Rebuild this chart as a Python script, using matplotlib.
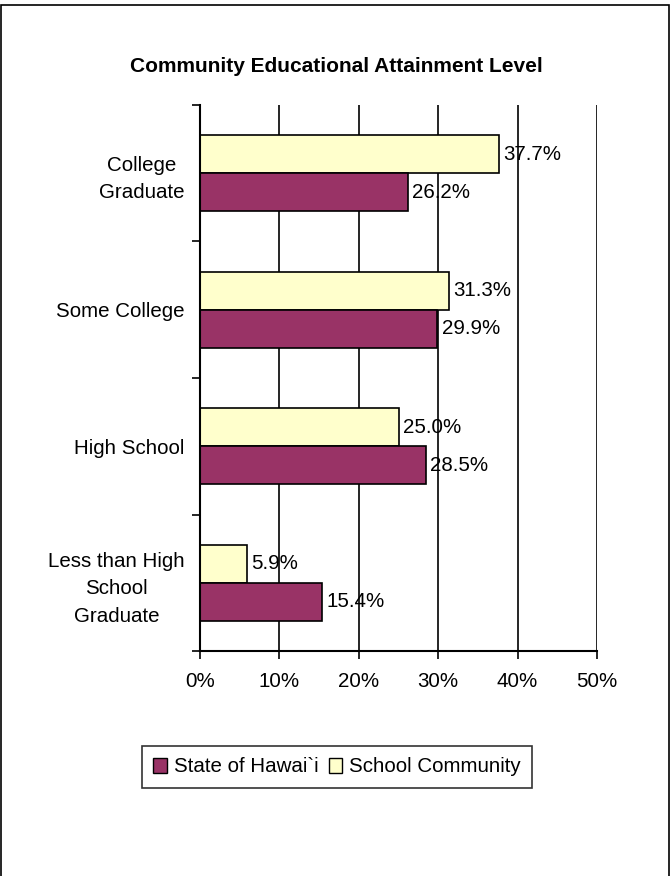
import matplotlib
matplotlib.use("Agg")
import matplotlib.pyplot as plt
from matplotlib.patches import Patch, Rectangle

# survey categories, bottom to top
categories = ["Less than High\nSchool\nGraduate", "High School", "Some College", "College\nGraduate"]
state_pct = [15.4, 28.5, 29.9, 26.2]
school_pct = [5.9, 25.0, 31.3, 37.7]
x_ticks = [0, 10, 20, 30, 40, 50]

PURPLE = "#993366"
YELLOW = "#FFFFCC"
FS = 14.8

plt.rcParams["font.family"] = ["Liberation Sans", "DejaVu Sans"]

fig = plt.figure(figsize=(6.70, 8.76), dpi=100)
ax = fig.add_axes([200 / 670, 1 - 651 / 876, 397 / 670, 546 / 876])

bh = 0.28
ys = list(range(len(categories)))
ax.barh([y + bh / 2 for y in ys], school_pct, height=bh, color=YELLOW,
        edgecolor="black", linewidth=1.2, zorder=3)
ax.barh([y - bh / 2 for y in ys], state_pct, height=bh, color=PURPLE,
        edgecolor="black", linewidth=1.2, zorder=3)

for y, v in zip(ys, school_pct):
    ax.annotate("%.1f%%" % v, xy=(v, y + bh / 2), xytext=(3, 0), textcoords="offset points",
                ha="left", va="center", fontsize=FS, zorder=5)
for y, v in zip(ys, state_pct):
    ax.annotate("%.1f%%" % v, xy=(v, y - bh / 2), xytext=(3, 0), textcoords="offset points",
                ha="left", va="center", fontsize=FS, zorder=5)

ax.set_xlim(0, 50)
ax.set_ylim(-0.5, len(categories) - 0.5)
ax.set_xticks(x_ticks)
ax.set_xticklabels(["%d%%" % t for t in x_ticks], fontsize=FS)
for t in x_ticks[1:]:
    ax.axvline(t, color="black", linewidth=1.2, zorder=1)

# category labels centred, boundary ticks between groups
ax.set_yticks(ys)
ax.set_yticklabels(categories, fontsize=FS, multialignment="center", linespacing=1.55)
ax.tick_params(axis="y", length=0, pad=11)
ax.set_yticks([y - 0.5 for y in ys] + [len(categories) - 0.5], minor=True)
ax.tick_params(axis="y", which="minor", length=6, width=1.2, direction="out")
ax.tick_params(axis="x", length=6, width=1.2, direction="out", pad=9)

for s in ["top", "right"]:
    ax.spines[s].set_visible(False)
ax.spines["left"].set_linewidth(1.5)
ax.spines["bottom"].set_linewidth(1.5)
ax.spines["left"].set_zorder(4)

fig.text(336 / 670, 1 - 67 / 876, "Community Educational Attainment Level",
         ha="center", va="center", fontsize=15, fontweight="bold")

handles = [Patch(facecolor=PURPLE, edgecolor="black", label="State of Hawai`i"),
           Patch(facecolor=YELLOW, edgecolor="black", label="School Community")]
leg = fig.legend(handles=handles, loc="center", bbox_to_anchor=(337 / 670, 1 - 767 / 876),
                 ncol=2, fontsize=FS, frameon=True, fancybox=False, shadow=False,
                 handlelength=0.65, handleheight=0.75, handletextpad=0.35, columnspacing=0.5,
                 borderpad=0.55, borderaxespad=0)
leg.get_frame().set_edgecolor("black")
leg.get_frame().set_linewidth(1.2)

# outer chart border
fig.patches.append(Rectangle((1 / 670, -0.05), 668 / 670, 1.05 - 5 / 876,
                             transform=fig.transFigure, fill=False,
                             edgecolor="black", linewidth=1.2))

fig.savefig("out.png", dpi=100)
